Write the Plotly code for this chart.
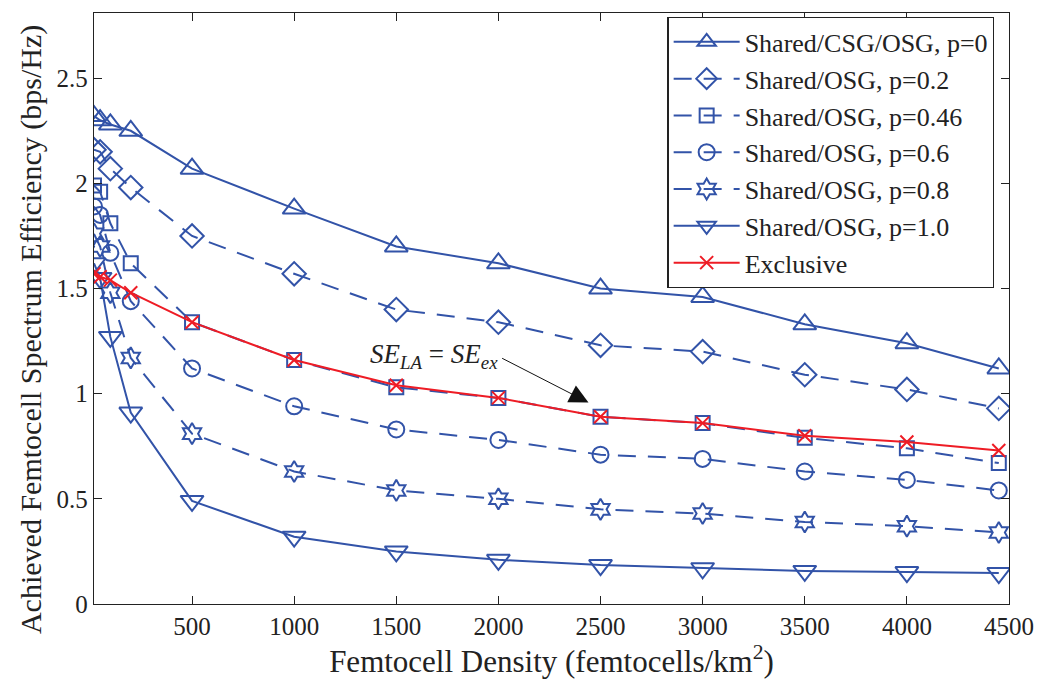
import plotly.graph_objects as go

# Femtocell density (femtocells/km^2)
density = [20, 50, 100, 200, 500, 1000, 1500, 2000, 2500, 3000, 3500, 4000, 4450]

# Achieved femtocell spectrum efficiency (bps/Hz) per access scheme
se_p0 = [2.32, 2.30, 2.28, 2.25, 2.07, 1.88, 1.70, 1.62, 1.50, 1.46, 1.33, 1.24, 1.12]
se_p02 = [2.16, 2.15, 2.07, 1.98, 1.75, 1.57, 1.40, 1.34, 1.23, 1.20, 1.09, 1.02, 0.93]
se_p046 = [1.99, 1.96, 1.81, 1.62, 1.34, 1.16, 1.03, 0.98, 0.89, 0.86, 0.79, 0.74, 0.67]
se_p06 = [1.89, 1.85, 1.67, 1.44, 1.12, 0.94, 0.83, 0.78, 0.71, 0.69, 0.63, 0.59, 0.54]
se_p08 = [1.76, 1.70, 1.48, 1.17, 0.81, 0.63, 0.54, 0.50, 0.45, 0.43, 0.39, 0.37, 0.34]
se_p10 = [1.62, 1.55, 1.27, 0.91, 0.49, 0.32, 0.25, 0.21, 0.185, 0.17, 0.157, 0.152, 0.147]
se_excl = [1.57, 1.556, 1.54, 1.48, 1.34, 1.16, 1.04, 0.98, 0.89, 0.86, 0.80, 0.77, 0.73]

x_ticks = [500, 1000, 1500, 2000, 2500, 3000, 3500, 4000, 4500]
y_ticks = [0, 0.5, 1, 1.5, 2, 2.5]
y_tick_text = ["0", "0.5", "1", "1.5", "2", "2.5"]

BLUE = "#3253a8"
RED = "#ee1c25"
INK = "#222"
FONT = "Liberation Serif"
DASH = "18px,12px"

series = [
    ("Shared/CSG/OSG, p=0", se_p0, "triangle-up-open", 20, "solid", BLUE),
    ("Shared/OSG, p=0.2", se_p02, "diamond-open", 18, DASH, BLUE),
    ("Shared/OSG, p=0.46", se_p046, "square-open", 14, DASH, BLUE),
    ("Shared/OSG, p=0.6", se_p06, "circle-open", 16, DASH, BLUE),
    ("Shared/OSG, p=0.8", se_p08, "hexagram-open", 16, DASH, BLUE),
    ("Shared/OSG, p=1.0", se_p10, "triangle-down-open", 20, "solid", BLUE),
    ("Exclusive", se_excl, "x-thin-open", 13, "solid", RED),
]

fig = go.Figure()
for name, vals, sym, size, dash, color in series:
    fig.add_trace(go.Scatter(
        x=density, y=vals, name=name, mode="lines+markers",
        line=dict(color=color, width=2, dash=dash),
        marker=dict(symbol=sym, size=size, color=color,
                    line=dict(color=color, width=2)),
    ))

# Label and arrow pointing at the crossover of the p=0.46 and Exclusive curves
fig.add_annotation(
    x=1685, y=1.18, xref="x", yref="y", showarrow=False,
    text="<i>SE</i><sub><i>LA</i></sub> = <i>SE</i><sub><i>ex</i></sub>",
    font=dict(family=FONT, size=27, color=INK),
)
fig.add_annotation(
    x=2441, y=0.958, ax=2011, ay=1.172, xref="x", yref="y",
    axref="x", ayref="y", text="", showarrow=True,
    arrowhead=2, arrowsize=3.8, arrowwidth=1, arrowcolor="#111", standoff=0,
)

# Vertical axis label
fig.add_annotation(
    x=-0.069, y=0.465, xref="paper", yref="paper", showarrow=False,
    xanchor="center", yanchor="middle",
    text="Achieved Femtocell Spectrum Efficiency (bps/Hz)", textangle=-90,
    font=dict(family=FONT, size=30, color=INK),
)

axis_common = dict(
    showgrid=False, zeroline=False, showline=True, linecolor=INK,
    linewidth=1.3, mirror="ticks", ticks="inside", ticklen=8,
    tickcolor=INK, tickwidth=1,
    tickfont=dict(family=FONT, size=25, color=INK),
)

fig.update_layout(
    width=1046, height=684,
    margin=dict(l=94, r=31, t=12, b=80),
    paper_bgcolor="white", plot_bgcolor="white",
    font=dict(family=FONT, color=INK),
    xaxis=dict(
        range=[20, 4500], tickvals=x_ticks,
        title=dict(text="Femtocell Density (femtocells/km<sup>2</sup>)",
                   font=dict(family=FONT, size=31, color=INK), standoff=3),
        **axis_common,
    ),
    yaxis=dict(
        range=[0, 2.81], tickvals=y_ticks, ticktext=y_tick_text,
        **axis_common,
    ),
    legend=dict(
        x=0.984, y=0.993, xanchor="right", yanchor="top",
        bgcolor="white", bordercolor=INK, borderwidth=1.3,
        font=dict(family=FONT, size=26, color=INK),
        itemwidth=66, tracegroupgap=0,
    ),
    showlegend=True,
)

fig.write_html("out.html")
